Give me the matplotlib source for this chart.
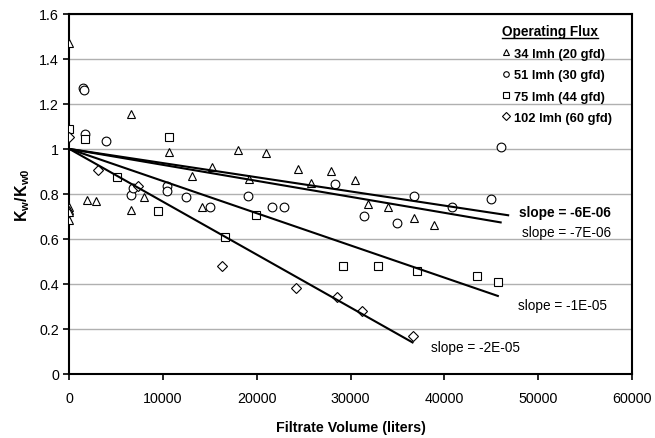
import matplotlib
matplotlib.use("Agg")
import matplotlib.pyplot as plt
import numpy as np

plt.rcParams['font.family'] = ['Liberation Sans', 'DejaVu Sans']
plt.rcParams['mathtext.fontset'] = 'custom'
plt.rcParams['mathtext.rm'] = 'Liberation Sans'
plt.rcParams['mathtext.bf'] = 'Liberation Sans:bold'

# 34 lmh (20 gfd)
x_34 = [0, 0, 0, 0, 0, 1850, 2810, 6580, 6580, 7940, 10640, 13120, 14150, 15190,
        18030, 19200, 20990, 24370, 25760, 27930, 30490, 31900, 33950, 36710, 38840]
y_34 = [1.47, 0.74, 0.73, 0.72, 0.685, 0.773, 0.770, 1.156, 0.730, 0.785, 0.985, 0.880,
        0.744, 0.921, 0.996, 0.867, 0.981, 0.911, 0.849, 0.904, 0.864, 0.754, 0.743,
        0.692, 0.664]

# 51 lmh (30 gfd)
x_51 = [1500, 1550, 1675, 3880, 6580, 6760, 10390, 10390, 12450, 15000, 19100, 21600,
        22910, 28350, 31440, 34930, 36750, 40800, 44980, 46030]
y_51 = [1.27, 1.26, 1.067, 1.037, 0.797, 0.827, 0.834, 0.815, 0.788, 0.742, 0.790,
        0.741, 0.744, 0.844, 0.704, 0.672, 0.790, 0.740, 0.778, 1.010]

# 75 lmh (44 gfd)
x_75 = [0, 1675, 5060, 9430, 10670, 16610, 19890, 29240, 32900, 37070, 43470, 45710]
y_75 = [1.089, 1.044, 0.874, 0.726, 1.055, 0.607, 0.707, 0.481, 0.481, 0.459, 0.434, 0.410]

# 102 lmh (60 gfd)
x_102 = [0, 3100, 7300, 16260, 24150, 28600, 31200, 36640]
y_102 = [1.055, 0.908, 0.834, 0.481, 0.381, 0.342, 0.279, 0.170]

series_labels = ['34 lmh (20 gfd)', '51 lmh (30 gfd)', '75 lmh (44 gfd)', '102 lmh (60 gfd)']
series_markers = ['^', 'o', 's', 'D']

# trendlines through (0, 1)
fit_slopes = [-6.3e-06, -7.1e-06, -1.43e-05, -2.35e-05]
fit_x_end = [46800, 46000, 45700, 36600]
slope_texts = ['slope = -6E-06', 'slope = -7E-06', 'slope = -1E-05', 'slope = -2E-05']
slope_text_x = [57800, 57800, 57300, 38600]
slope_text_y = [0.72, 0.632, 0.308, 0.119]

fig = plt.figure(figsize=(6.55, 4.39), dpi=100)
ax = fig.add_axes([0.1058, 0.146, 0.859, 0.820])

xs = [x_34, x_51, x_75, x_102]
ys = [y_34, y_51, y_75, y_102]
for i in range(4):
    ms = 6.3 if series_markers[i] != 'D' else 4.8
    ax.plot(xs[i], ys[i], linestyle='none', marker=series_markers[i], markersize=ms,
            markerfacecolor='white', markeredgecolor='black', markeredgewidth=0.8,
            label=series_labels[i], zorder=3)

for i in range(4):
    xl = np.array([0, fit_x_end[i]])
    ax.plot(xl, 1 + fit_slopes[i] * xl, color='black', linewidth=1.5, zorder=4)
    if i == 3:
        ha = 'left'
    else:
        ha = 'right'
    ax.text(slope_text_x[i], slope_text_y[i], slope_texts[i], fontsize=9.8, ha=ha, va='center',
            fontweight='bold' if i == 0 else 'normal', color='black')

ax.set_xlim(0, 60000)
ax.set_ylim(0, 1.6)
ax.set_xticks(np.arange(0, 60001, 10000))
ax.set_yticks(np.arange(0, 1.61, 0.2))
ax.set_yticklabels(['0', '0.2', '0.4', '0.6', '0.8', '1', '1.2', '1.4', '1.6'])
ax.tick_params(direction='out', length=4, width=1.2, labelsize=10.3, colors='black')
ax.tick_params(axis='x', pad=8)
ax.yaxis.grid(True, color='#b0b0b0', linewidth=1.0)
ax.set_axisbelow(True)
for s in ax.spines.values():
    s.set_linewidth(1.5)

ax.set_xlabel('Filtrate Volume (liters)', fontsize=10.3, fontweight='bold', labelpad=11)
ax.set_ylabel(r'$\mathbf{K_w/K_{w0}}$', fontsize=11.5, labelpad=5)

leg = ax.legend(loc='upper left', bbox_to_anchor=(0.760, 0.985), frameon=False,
                title='Operating Flux', title_fontproperties={'weight': 'bold', 'size': 9.8},
                prop={'weight': 'bold', 'size': 9.3}, handlelength=0.6, handletextpad=0.3,
                labelspacing=0.72, borderaxespad=0, alignment='left')
for h in leg.legend_handles:
    h.set_markersize(4)

fig.canvas.draw()
bb = leg.get_title().get_window_extent()
inv = fig.transFigure.inverted()
(x0, y0), (x1, y1) = inv.transform([(bb.x0, bb.y0), (bb.x1, bb.y0)])
fig.add_artist(plt.Line2D([x0, x1], [y0 + 0.002, y0 + 0.002], color='black', linewidth=1.0))

fig.savefig('out.png', dpi=100)
